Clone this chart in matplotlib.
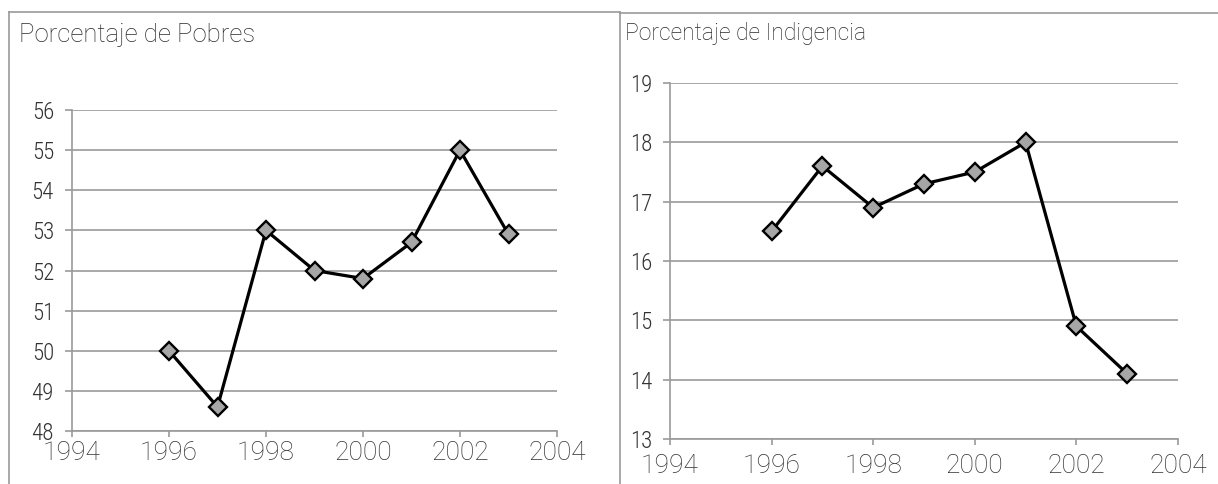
import matplotlib
matplotlib.use('Agg')
import matplotlib.pyplot as plt
from matplotlib.lines import Line2D

# data
years = [1996, 1997, 1998, 1999, 2000, 2001, 2002, 2003]
pobres = [50.0, 48.6, 53.0, 52.0, 51.8, 52.7, 55.0, 52.9]
indigencia = [16.5, 17.6, 16.9, 17.3, 17.5, 18.0, 14.9, 14.1]
x_ticks = [1994, 1996, 1998, 2000, 2002, 2004]
pobres_ticks = list(range(48, 57))
indig_ticks = list(range(13, 20))

W, H = 1218, 484
GRID = '#a8a8a8'
AXIS = '#9a9a9a'
TXT = '#333333'
plain = ['Roboto', 'Liberation Sans', 'DejaVu Sans']
narrow = ['Roboto Condensed', 'Archivo Narrow', 'PT Sans Narrow', 'DejaVu Sans']
plt.rcParams['font.family'] = plain

fig = plt.figure(figsize=(W / 100, H / 100), dpi=100)
fig.patch.set_facecolor('white')


def px_axes(x0, x1, y_top, y_bot):
    return fig.add_axes([x0 / W, 1 - y_bot / H, (x1 - x0) / W, (y_bot - y_top) / H])


def style(ax, yvals, yticks, xpad, ysize):
    ax.plot(years, yvals, color='black', lw=2.3, marker='D', ms=9.5,
            mfc='#a6a6a6', mec='black', mew=1.7, zorder=3, clip_on=False)
    ax.set_xlim(x_ticks[0], x_ticks[-1])
    ax.set_ylim(yticks[0], yticks[-1])
    ax.set_xticks(x_ticks)
    ax.set_yticks(yticks)
    ax.grid(axis='y', color=GRID, lw=1.4)
    ax.set_axisbelow(True)
    for s in ['top', 'right']:
        ax.spines[s].set_visible(False)
    for s in ['left', 'bottom']:
        ax.spines[s].set_color(AXIS)
        ax.spines[s].set_linewidth(1.2)
    ax.tick_params(axis='y', length=5, width=1.4, color=GRID, pad=8,
                   labelsize=ysize, labelcolor=TXT)
    ax.tick_params(axis='x', length=4, width=1.2, color=AXIS, pad=xpad,
                   labelsize=19, labelcolor=TXT)
    for lab in ax.get_yticklabels():
        lab.set_family(narrow)
        lab.set_weight('light')
    for lab in ax.get_xticklabels():
        lab.set_weight('light')


ax1 = px_axes(72, 557, 110, 431)
style(ax1, pobres, pobres_ticks, 3, 16.5)
ax2 = px_axes(670, 1178, 83, 439)
style(ax2, indigencia, indig_ticks, 7, 16.5)

fig.text(19 / W, 1 - 42 / H, 'Porcentaje de Pobres', fontsize=18.5, color='#2a2a2a',
         va='baseline', ha='left', weight='light')
fig.text(625 / W, 1 - 40 / H, 'Porcentaje de Indigencia', fontsize=16.5, color='#2a2a2a',
         va='baseline', ha='left', weight='light')


# panel borders
def px_line(xs, ys):
    fig.add_artist(Line2D([x / W for x in xs], [1 - y / H for y in ys],
                          color=AXIS, lw=1.2, transform=fig.transFigure))


px_line([9, 9], [11.5, 484])
px_line([9, 620], [11.5, 11.5])
px_line([620, 620], [11.5, 484])
px_line([620, 1218], [13, 13])

fig.savefig('out.png', dpi=100)
